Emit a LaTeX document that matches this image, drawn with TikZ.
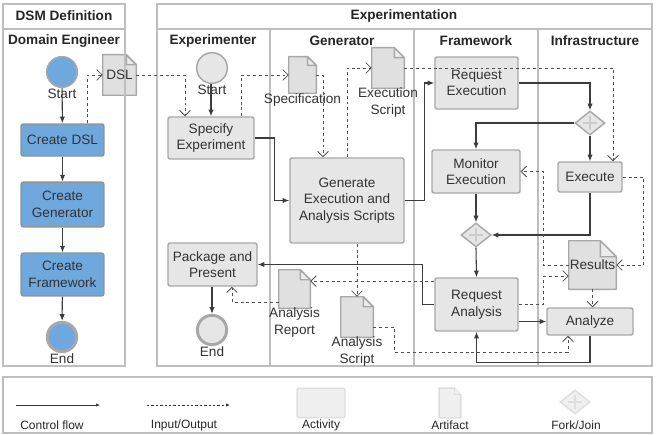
\documentclass[tikz,border=0pt]{standalone}
\usepackage{fontspec}
\setmainfont{Liberation Sans}
\usetikzlibrary{arrows.meta,positioning,shapes.geometric,backgrounds}
\definecolor{boxfill}{RGB}{230,230,230}
\definecolor{boxline}{RGB}{168,168,168}
\definecolor{bluefill}{RGB}{111,168,220}
\definecolor{docfill}{RGB}{224,224,224}
\definecolor{docfold}{RGB}{236,236,236}
\definecolor{flowline}{RGB}{60,60,60}
\definecolor{poolline}{RGB}{190,190,190}
\definecolor{txt}{RGB}{51,51,51}
\definecolor{faint}{RGB}{240,240,240}
\definecolor{faintline}{RGB}{222,222,222}

\begin{document}
\begin{tikzpicture}[
    x=0.75pt, y=-0.75pt,
    every node/.style={font=\fontsize{10.2}{12.5}\selectfont, text=txt},
    pool/.style={draw=poolline, line width=1.1pt},
    title/.style={font=\bfseries\fontsize{10.2}{12.5}\selectfont, text=black!85},
    legend/.style={font=\fontsize{9}{11}\selectfont, text=black!85},
    activity/.style={draw=boxline, line width=1.1pt, rounded corners=1.5pt, fill=boxfill, align=center, inner sep=0pt},
    define/.style={activity, fill=bluefill, draw=gray!85},
    startev/.style={circle, draw=boxline, line width=1.1pt, fill=boxfill, minimum size=23pt, inner sep=0pt},
    endev/.style={startev, line width=2.2pt, minimum size=22pt},
    artifact/.style={inner sep=0pt, align=center},
    docshape/.style={draw=boxline, line width=1.1pt, fill=docfill, line join=round},
    gateway/.style={diamond, draw=boxline, line width=1.1pt, fill=boxfill, minimum width=22.5pt, minimum height=18pt, inner sep=0pt,
        path picture={\draw[line width=2.2pt, gray!40] (path picture bounding box.center) +(-5pt,0) -- +(5pt,0)
            (path picture bounding box.center) +(0,-5pt) -- +(0,5pt);}},
    flow/.style={-{Latex[length=5pt,width=4pt]}, flowline, line width=0.8pt},
    io/.style={-{Straight Barb[length=4pt,width=8pt]}, flowline!90, line width=0.65pt, dash pattern=on 2.2pt off 2.2pt},
    keyline/.style={-{Latex[length=3pt,width=2.5pt]}, black!80, line width=0.5pt}
]
\useasboundingbox (0,0) rectangle (657,435);

% pools and lanes
\draw[pool] (3,4) rectangle (125,366);
\draw[pool] (3,29) -- (125,29);
\draw[pool] (157,4) rectangle (652,366);
\draw[pool] (157,29) -- (652,29);
\foreach \x in {270,414,538} \draw[pool] (\x,29) -- (\x,366);
\draw[pool] (3,377) rectangle (652,433);

\node[title] (dsmtitle) at (64,16) {DSM Definition};
\node[title] (expttitle) at (404,16) {Experimentation};
\node[title] (lanede) at (64,41) {Domain Engineer};
\node[title] (laneexp) at (213,41) {Experimenter};
\node[title] (lanegen) at (342,41) {Generator};
\node[title] (lanefw) at (476,41) {Framework};
\node[title] (laneinf) at (595,41) {Infrastructure};

% DSM definition
\node[startev, fill=bluefill, label={[label distance=-3pt]below:Start}] (starta) at (62,72) {};
\node[define, minimum width=62pt, minimum height=24pt] (createdsl) at (62.5,140) {Create DSL};
\node[define, minimum width=62pt, minimum height=33.5pt] (creategen) at (62.5,204.5) {Create\\Generator};
\node[define, minimum width=62pt, minimum height=32pt] (createfw) at (62.5,274.5) {Create\\Framework};
\node[endev, fill=bluefill, label={[label distance=-3pt]below:End}] (enda) at (62,337) {};
\node[artifact, minimum width=24.75pt, minimum height=30pt] (dsl) at (119.5,75) {DSL};

% experimenter
\node[startev, label={[label distance=-3pt]below:Start}] (startb) at (212,68) {};
\node[activity, minimum width=64.5pt, minimum height=31.5pt] (specify) at (211,138) {Specify\\Experiment};
\node[activity, minimum width=66.75pt, minimum height=32.25pt] (package) at (212.5,264.5) {Package and\\Present};
\node[endev, label={[label distance=-3pt]below:End}] (endb) at (212,330) {};

% generator
\node[artifact, minimum width=20.25pt, minimum height=27pt, label={[label distance=-3pt]below:Specification}] (spec) at (302.5,75) {};
\node[artifact, minimum width=24pt, minimum height=30pt, label={[label distance=-4pt, align=center]below:Execution\\Script}] (escript) at (388,68) {};
\node[activity, minimum width=85.5pt, minimum height=63.75pt] (generate) at (347,200.5) {Generate\\Execution and\\Analysis Scripts};
\node[artifact, minimum width=23.25pt, minimum height=28.5pt, label={[label distance=-4pt, align=center]below:Analysis\\Report}] (areport) at (294.5,289) {};
\node[artifact, minimum width=24pt, minimum height=30pt, label={[label distance=-4pt, align=center]below:Analysis\\Script}] (ascript) at (357,317) {};

% framework
\node[activity, minimum width=62.25pt, minimum height=39pt] (reqexec) at (476.5,83) {Request\\Execution};
\node[activity, minimum width=66pt, minimum height=32.25pt] (monitor) at (476,171.5) {Monitor\\Execution};
\node[gateway] (join) at (476,235) {};
\node[activity, minimum width=62.25pt, minimum height=39.75pt] (reqanalysis) at (476.5,304.5) {Request\\Analysis};

% infrastructure
\node[gateway] (fork) at (590,123) {};
\node[activity, minimum width=48pt, minimum height=22.5pt] (execute) at (590,177) {Execute};
\node[artifact, minimum width=35.25pt, minimum height=36pt] (results) at (592.5,265) {Results};
\node[activity, minimum width=64.5pt, minimum height=20.25pt] (analyze) at (590,321.5) {Analyze};

% legend
\coordinate (lgflowa) at (16,405);
\coordinate (lgflowb) at (100,405);
\node[legend] (lgflow) at (52,425) {Control flow};
\coordinate (lgioa) at (147,405);
\coordinate (lgiob) at (230,405);
\node[legend] (lgio) at (184,425) {Input/Output};
\node[activity, draw=faintline, fill=faint, minimum width=36pt, minimum height=22pt] (lgact) at (321,403) {};
\node[legend] (lgacttxt) at (321,425) {Activity};
\node[artifact, minimum width=16pt, minimum height=22pt] (lgart) at (450,403) {};
\node[legend] (lgarttxt) at (450,425) {Artifact};
\node[gateway, draw=faintline, fill=faint, path picture={\draw[line width=1.2pt, faintline] (path picture bounding box.center) +(-5pt,0) -- +(5pt,0)
    (path picture bounding box.center) +(0,-5pt) -- +(0,5pt);}] (lgfork) at (575,402) {};
\node[legend] (lgforktxt) at (576,425) {Fork/Join};

\begin{scope}[on background layer]
\foreach \a/\f in {dsl/7.5pt,spec/6.5pt,escript/7.5pt,areport/7.5pt,ascript/7.5pt,results/12pt} {
    \filldraw[docshape] (\a.south west) -- (\a.south east) -- ([yshift=-\f]\a.north east) -- ([xshift=-\f]\a.north east) -- (\a.north west) -- cycle;
    \draw[docshape, fill=docfold] ([xshift=-\f]\a.north east) -- ([xshift=-\f,yshift=-\f]\a.north east) -- ([yshift=-\f]\a.north east) -- cycle;
}
\filldraw[docshape, draw=faintline, fill=faint] (lgart.south west) -- (lgart.south east) -- ([yshift=-5pt]lgart.north east) -- ([xshift=-5pt]lgart.north east) -- (lgart.north west) -- cycle;
\draw[docshape, draw=faintline, fill=faint] ([xshift=-5pt]lgart.north east) -- ([xshift=-5pt,yshift=-5pt]lgart.north east) -- ([yshift=-5pt]lgart.north east);
\end{scope}

% control flow
\draw[flow] (starta) -- (createdsl);
\draw[flow] (createdsl) -- (creategen);
\draw[flow] (creategen) -- (createfw);
\draw[flow] (createfw) -- (enda);
\draw[flow] (startb.south -| specify.north) -- (specify.north);
\draw[flow] (specify.east) -- ++(20,0) |- (generate.west);
\draw[flow] (generate.east) -- ++(20,0) |- (reqexec.west);
\draw[flow] (reqexec.east) -| (fork.north);
\draw[flow] (fork.west) -| (monitor.north);
\draw[flow] (fork.south) -- (execute.north);
\draw[flow] (monitor.south) -- (join.north);
\draw[flow] (execute.south) |- (join.east);
\draw[flow] (join.south) -- (reqanalysis.north);
\draw[flow] (reqanalysis.west) -- ++(-12,0) |- (package.east);
\draw[flow] (reqanalysis.east |- analyze.west) -- (analyze.west);
\draw[flow] (analyze.south) -- ++(0,27) -| (reqanalysis.south);
\draw[flow] (package.south -| endb.north) -- (endb.north);
\draw[keyline] (lgflowa) -- (lgflowb);

% input/output
\draw[io] ([xshift=19pt]createdsl.north) |- (dsl.west);
\draw[io] (dsl.east) -| ([xshift=-19.5pt]specify.north);
\draw[io] ([xshift=23pt]specify.north) |- (spec.west);
\draw[io] (spec.east) -| ([xshift=-18pt]generate.north);
\draw[io] (generate.north) |- (escript.west);
\draw[io] (escript.east) -| ([xshift=17.25pt]execute.north);
\draw[io] (results.west) -- ++(-25,0) |- (monitor.east);
\draw[io] (execute.east) -- ++(21,0) |- (results.east);
\draw[io] (reqanalysis.east) -- ++(25,0) |- ([yshift=-8.25pt]results.west);
\draw[io] (results.south) -- (results.south |- analyze.north);
\draw[io] ([yshift=17.6pt]reqanalysis.west) -- ([yshift=17.6pt]reqanalysis.west -| areport.east);
\draw[io] ([yshift=-9.75pt]areport.west) -| ([xshift=14.6pt]package.south);
\draw[io] ([xshift=7.5pt]generate.south) -- (ascript.north);
\draw[io] ([yshift=-7.5pt]ascript.east) -- ++(21,0) -- ++(0,25) -| ([xshift=-16.5pt]analyze.south);
\draw[keyline, dash pattern=on 1.8pt off 1.5pt] (lgioa) -- (lgiob);
\end{tikzpicture}
\end{document}
